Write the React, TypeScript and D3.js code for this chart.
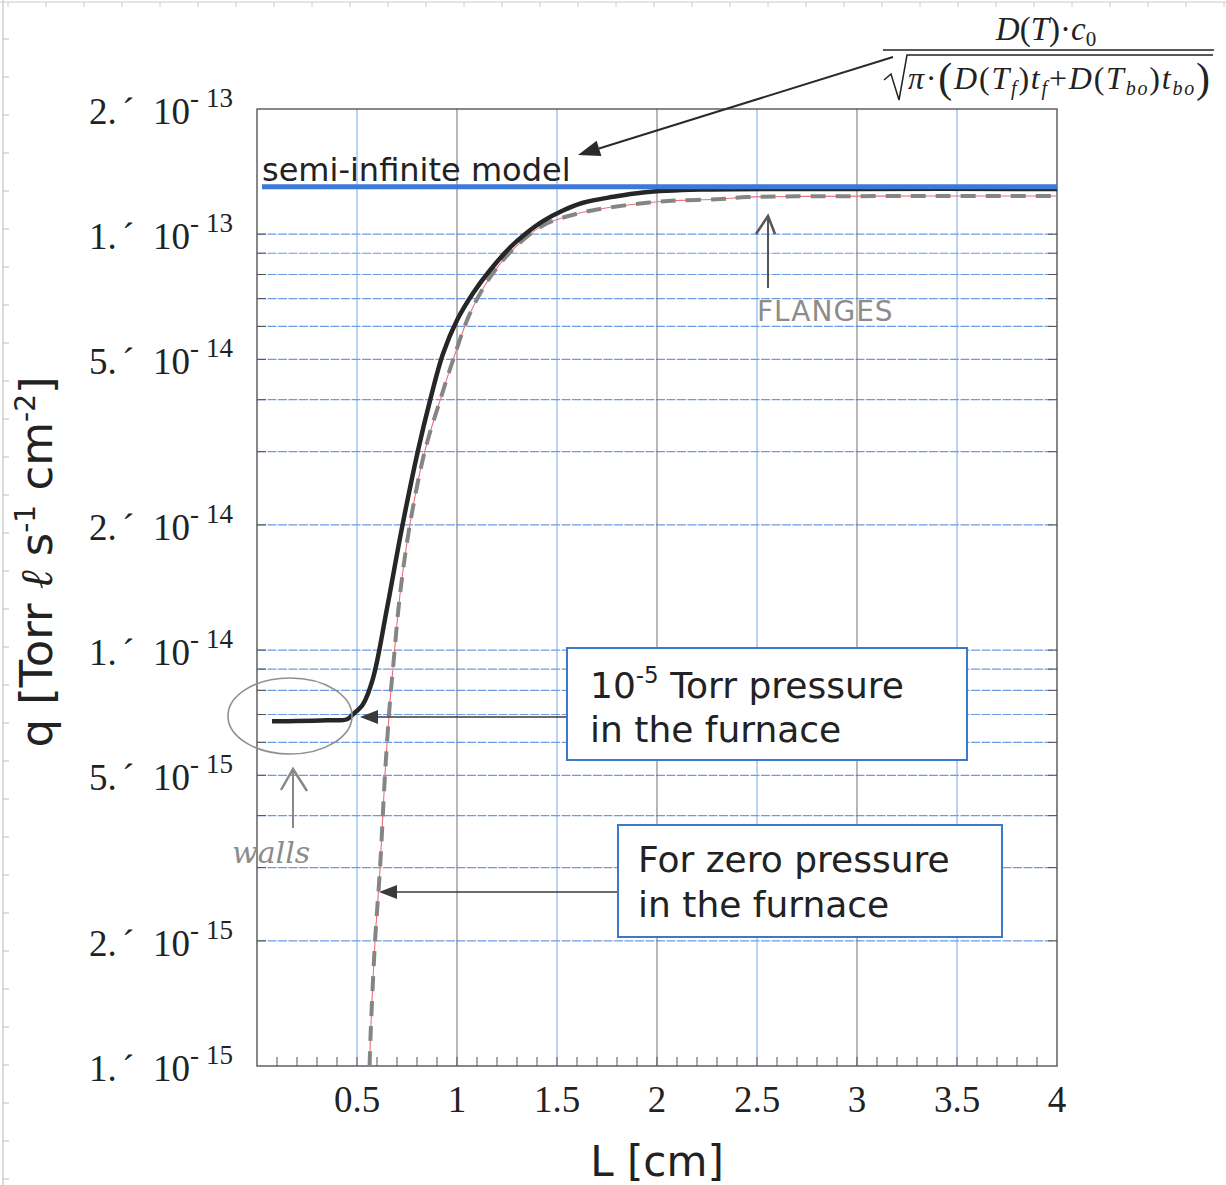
import React from "react";
import * as d3 from "d3";

// chart values
const xTicks = [0.5, 1, 1.5, 2, 2.5, 3, 3.5, 4];
const yTicks = [1e-15, 2e-15, 5e-15, 1e-14, 2e-14, 5e-14, 1e-13, 2e-13];
const yGrid = [2e-15, 3e-15, 4e-15, 5e-15, 6e-15, 7e-15, 8e-15, 9e-15, 1e-14,
  2e-14, 3e-14, 4e-14, 5e-14, 6e-14, 7e-14, 8e-14, 9e-14, 1e-13];

// semi-infinite model (blue)
const semiL = [0.025, 4.0];
const semiQ = [1.3e-13, 1.3e-13];

// 1e-5 Torr in the furnace (black)
const pressureL = [0.075, 0.2, 0.35, 0.45, 0.48, 0.53, 0.58, 0.65, 0.725, 0.805, 0.865, 0.93, 1.0,
  1.08, 1.165, 1.265, 1.34, 1.43, 1.53, 1.63, 1.78, 1.93, 2.215, 3.0, 4.0];
const pressureQ = [6.74e-15, 6.75e-15, 6.78e-15, 6.82e-15, 7.01e-15, 7.41e-15, 8.55e-15, 1.26e-14,
  1.97e-14, 3.02e-14, 3.98e-14, 5.16e-14, 6.21e-14, 7.21e-14, 8.19e-14, 9.29e-14, 1.0e-13,
  1.075e-13, 1.14e-13, 1.19e-13, 1.23e-13, 1.26e-13, 1.28e-13, 1.285e-13, 1.285e-13];

// zero pressure in the furnace (grey dashed + thin red)
const zeroL = [0.563, 0.568, 0.59, 0.615, 0.64, 0.665, 0.68, 0.715, 0.765, 0.84, 0.915, 0.98,
  1.065, 1.165, 1.275, 1.43, 1.6, 1.715, 1.95, 2.1, 2.3, 2.45, 2.7, 3.3, 4.0];
const zeroQ = [1.0e-15, 1.19e-15, 1.99e-15, 2.98e-15, 5.02e-15, 7.53e-15, 9.04e-15, 1.36e-14,
  2.01e-14, 3.02e-14, 3.98e-14, 4.98e-14, 6.45e-14, 7.87e-14, 9.14e-14, 1.05e-13, 1.12e-13,
  1.15e-13, 1.19e-13, 1.205e-13, 1.213e-13, 1.228e-13, 1.233e-13, 1.235e-13, 1.235e-13];

const W = 1226, H = 1185;
const left = 257, right = 1057, top = 109, bottom = 1066;

const x = d3.scaleLinear().domain([0, 4]).range([left, right]);
const y = d3.scaleLog().domain([1e-15, 2e-13]).range([bottom, top]);

const line = d3.line<[number, number]>()
  .x((d) => x(d[0]))
  .y((d) => y(d[1]))
  .curve(d3.curveCatmullRom.alpha(0.5));

const pairs = (a: number[], b: number[]) => a.map((v, i) => [v, b[i]] as [number, number]);

const serif = "'Liberation Serif', 'Times New Roman', serif";
const sans = "'DejaVu Sans', Verdana, sans-serif";

function Arrow({ x1, y1, x2, y2, color = "#333", w = 1.6, len = 20, half = 7 }: any) {
  const a = Math.atan2(y2 - y1, x2 - x1);
  const bx = x2 - len * Math.cos(a), by = y2 - len * Math.sin(a);
  const px = -Math.sin(a) * half, py = Math.cos(a) * half;
  return (
    <g>
      <line x1={x1} y1={y1} x2={bx} y2={by} stroke={color} strokeWidth={w} />
      <polygon points={`${x2},${y2} ${bx + px},${by + py} ${bx - px},${by - py}`} fill={color} />
    </g>
  );
}

export default function App() {
  const minorX = d3.range(1, 40).map((i) => i / 10);
  const pageTicksY = d3.range(0, 32).map((i) => 39 + i * 38);
  const pageTicksX = d3.range(0, 33).map((i) => 8 + i * 38);

  return (
    <svg width={W} height={H} style={{ position: "absolute", left: 0, top: 0, background: "#fff" }}>
      <defs>
        <clipPath id="plot">
          <rect x={left} y={top - 20} width={right - left + 6} height={bottom - top + 20} />
        </clipPath>
      </defs>

      {/* scanned paper edges */}
      <line x1={3} y1={0} x2={3} y2={H} stroke="#bbb" strokeWidth={1} />
      {pageTicksY.map((t) => <line key={"py" + t} x1={3} x2={9} y1={t} y2={t} stroke="#bbb" />)}
      <line x1={0} y1={2} x2={W} y2={2} stroke="#ccc" strokeWidth={1} />
      {pageTicksX.map((t) => <line key={"px" + t} x1={t} x2={t} y1={2} y2={7} stroke="#ccc" />)}

      {/* horizontal grid */}
      {yGrid.map((v) => (
        <g key={"yg" + v}>
          <line x1={left} x2={right} y1={y(v)} y2={y(v)} stroke="#6d9be0" strokeWidth={1.2}
            strokeDasharray="9 1.5" />
          <line x1={left} x2={left + 9} y1={y(v)} y2={y(v)} stroke="#555" strokeWidth={1} />
          <line x1={right - 9} x2={right} y1={y(v)} y2={y(v)} stroke="#555" strokeWidth={1} />
        </g>
      ))}

      {/* vertical grid */}
      {xTicks.slice(0, -1).map((v) => (
        <line key={"xg" + v} x1={x(v)} x2={x(v)} y1={top} y2={bottom}
          stroke={Number.isInteger(v) ? "#707070" : "#7aa6e6"} strokeWidth={1} />
      ))}
      {minorX.map((v) => (
        <line key={"mx" + v} x1={x(v)} x2={x(v)} y1={bottom} y2={bottom - 9} stroke="#555" strokeWidth={1} />
      ))}

      {/* frame */}
      <rect x={left} y={top} width={right - left} height={bottom - top} fill="none" stroke="#555" strokeWidth={1.4} />

      {/* curves */}
      <g clipPath="url(#plot)">
        <path d={line(pairs(zeroL, zeroQ)) || ""} fill="none" stroke="#ef6f75" strokeWidth={1.1} />
        <path d={line(pairs(zeroL, zeroQ)) || ""} fill="none" stroke="#858585" strokeWidth={4}
          strokeDasharray="15 10" />
        <path d={line(pairs(pressureL, pressureQ)) || ""} fill="none" stroke="#262626" strokeWidth={4.5}
          strokeLinejoin="round" />
      </g>
      <path d={line(pairs(semiL, semiQ)) || ""} fill="none" stroke="#3d79d6" strokeWidth={5} />

      {/* y tick labels */}
      {yTicks.map((v) => {
        const e = Math.floor(Math.log10(v) + 1e-9);
        const m = Math.round(v / Math.pow(10, e));
        const t = y(v);
        return (
          <g key={"yt" + v} fontFamily={serif} fill="#222">
            <text x={89} y={t + 15} fontSize={37}>{m + "."}</text>
            <text x={122} y={t + 15} fontSize={37}>´</text>
            <text x={153} y={t + 15} fontSize={37}>10</text>
            <text x={190} y={t - 2} fontSize={27}>-</text>
            <text x={206} y={t - 2} fontSize={27}>{String(-e)}</text>
          </g>
        );
      })}

      {/* x tick labels */}
      {xTicks.map((v) => (
        <text key={"xt" + v} x={x(v)} y={1112} textAnchor="middle" fontFamily={serif} fontSize={37} fill="#222">
          {String(v)}
        </text>
      ))}

      {/* axis titles */}
      <text x={657} y={1176} textAnchor="middle" fontFamily={sans} fontSize={42} fill="#222">L [cm]</text>
      <text transform="translate(52,562) rotate(-90)" textAnchor="middle" fontFamily={sans} fontSize={45} fill="#222">
        q [Torr <tspan fontFamily="'DejaVu Serif', serif" fontStyle="italic">ℓ</tspan> s
        <tspan fontSize={28} dy={-17}>-1</tspan>
        <tspan dy={17}> cm</tspan>
        <tspan fontSize={28} dy={-17}>-2</tspan>
        <tspan dy={17}>]</tspan>
      </text>

      {/* semi-infinite model label and formula */}
      <text x={262} y={181} fontFamily={sans} fontSize={32} fill="#222">semi-infinite model</text>
      <Arrow x1={893} y1={57} x2={578} y2={155} color="#2a2a2a" w={2} len={22} half={8} />

      <text x={1046} y={40} textAnchor="middle" fontFamily={serif} fontSize={33} fill="#222">
        <tspan fontStyle="italic">D</tspan><tspan>(</tspan><tspan fontStyle="italic">T</tspan><tspan>)</tspan>
        <tspan>{"·"}</tspan><tspan fontStyle="italic">c</tspan>
        <tspan fontSize={21} dy={6}>0</tspan>
      </text>
      <line x1={883} x2={1214} y1={50} y2={50} stroke="#222" strokeWidth={1.5} />
      <path d="M884,80 L891,74 L899,100 L907,55 L1213,55" fill="none" stroke="#222" strokeWidth={1.5} />
      <text x={908} y={89} fontFamily={serif} fontSize={32} fill="#222" textLength={302}>
        <tspan fontStyle="italic">π</tspan>
        <tspan>{"·"}</tspan>
        <tspan fontSize={42} dy={3}>(</tspan>
        <tspan dy={-3} fontStyle="italic">D</tspan><tspan>(</tspan><tspan fontStyle="italic">T</tspan>
        <tspan fontSize={20} fontStyle="italic" dy={6}>f</tspan>
        <tspan dy={-6}>)</tspan><tspan fontStyle="italic">t</tspan>
        <tspan fontSize={20} fontStyle="italic" dy={6}>f</tspan>
        <tspan dy={-6}>{"+"}</tspan>
        <tspan fontStyle="italic">D</tspan><tspan>(</tspan><tspan fontStyle="italic">T</tspan>
        <tspan fontSize={20} fontStyle="italic" dy={6}>bo</tspan>
        <tspan dy={-6}>)</tspan><tspan fontStyle="italic">t</tspan>
        <tspan fontSize={20} fontStyle="italic" dy={6}>bo</tspan>
        <tspan fontSize={42} dy={-3}>)</tspan>
      </text>

      {/* handwritten notes */}
      <text x={757} y={321} fontFamily={sans} fontSize={28} fill="#8c8c8c" letterSpacing={1}>FLANGES</text>
      <line x1={768} y1={288} x2={768} y2={219} stroke="#555" strokeWidth={2} />
      <polyline points="756,234 768,216 775,234" fill="none" stroke="#555" strokeWidth={2.5} />

      <ellipse cx={290} cy={716} rx={62} ry={38} fill="none" stroke="#8f8f8f" strokeWidth={1.6} />
      <text x={232} y={863} fontFamily="'DejaVu Serif', serif" fontStyle="italic" fontSize={30} fill="#8c8c8c">walls</text>
      <line x1={293} y1={828} x2={293} y2={771} stroke="#888" strokeWidth={2} />
      <polyline points="281,790 293,769 307,791" fill="none" stroke="#888" strokeWidth={2.5} />

      {/* boxed callouts */}
      <Arrow x1={567} y1={717} x2={360} y2={717} color="#3a3a3a" w={1.5} len={18} half={7} />
      <rect x={567} y={648} width={400} height={112} fill="#fff" stroke="#3b78cc" strokeWidth={2} />
      <text x={590} y={698} fontFamily={sans} fontSize={36} fill="#222">
        10<tspan fontSize={23} dy={-15}>-5</tspan><tspan dy={15}> Torr pressure</tspan>
      </text>
      <text x={590} y={742} fontFamily={sans} fontSize={36} fill="#222">in the furnace</text>

      <Arrow x1={618} y1={892} x2={379} y2={892} color="#3a3a3a" w={1.5} len={18} half={7} />
      <rect x={618} y={825} width={384} height={112} fill="#fff" stroke="#3b78cc" strokeWidth={2} />
      <text x={638} y={872} fontFamily={sans} fontSize={36} fill="#222">For zero pressure</text>
      <text x={638} y={917} fontFamily={sans} fontSize={36} fill="#222">in the furnace</text>
    </svg>
  );
}
